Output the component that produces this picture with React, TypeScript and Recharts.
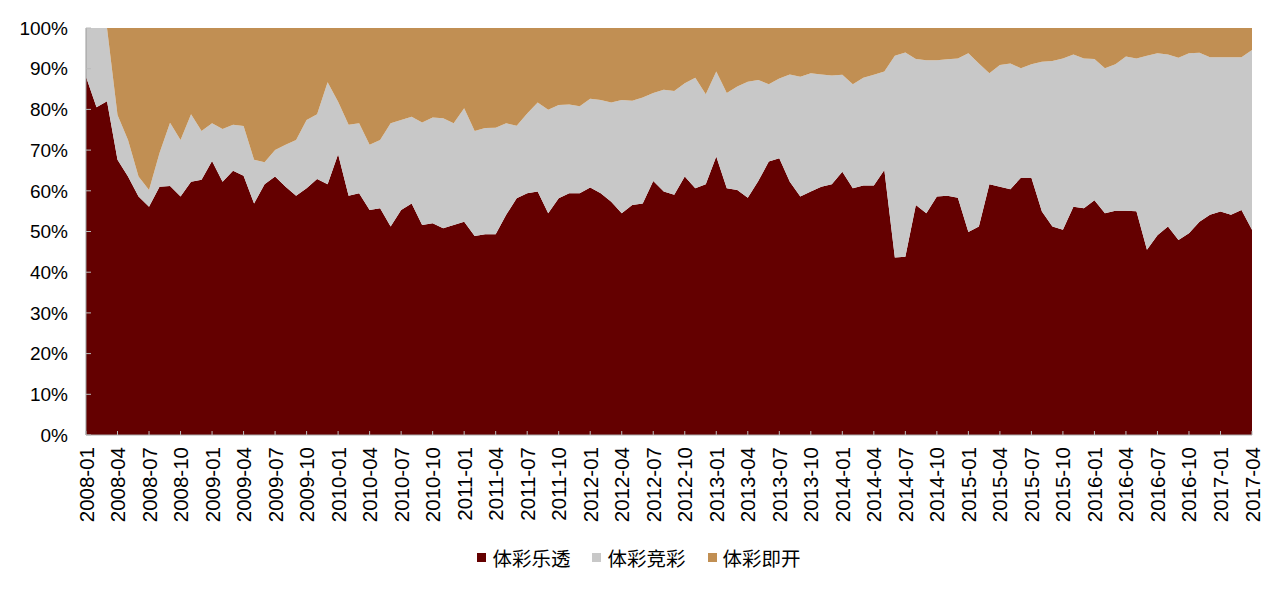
import React from 'react';
import { AreaChart, Area, XAxis, YAxis, Legend } from 'recharts';

const months: string[] = (() => {
  const out: string[] = [];
  for (let y = 2008; y <= 2017; y++) {
    for (let m = 1; m <= 12; m++) {
      if (y === 2017 && m > 4) break;
      out.push(`${y}-${m < 10 ? '0' + m : m}`);
    }
  }
  return out;
})();

const lotto: number[] = [
  88, 80.5, 82, 67.6, 63.5, 58.6, 56.1, 61.0, 61.2, 58.6, 62.2, 62.7,
  67.3, 62.2, 64.9, 63.7, 56.9, 61.6, 63.5, 61.0, 58.8, 60.6, 62.9, 61.6,
  69.0, 58.8, 59.4, 55.3, 55.7, 51.2, 55.3, 56.9, 51.6, 52.0, 50.8, 51.6,
  52.4, 48.9, 49.3, 49.3, 54.1, 58.2, 59.4, 59.8, 54.5, 58.2, 59.4, 59.4,
  60.8, 59.4, 57.3, 54.5, 56.5, 56.9, 62.4, 59.8, 59.0, 63.5, 60.6, 61.6,
  68.4, 60.6, 60.2, 58.3, 62.4, 67.2, 68.0, 62.2, 58.6, 59.8, 61.0, 61.6,
  64.7, 60.6, 61.3, 61.3, 65.1, 43.6, 43.8, 56.5, 54.5, 58.6, 58.8, 58.3,
  49.9, 51.2, 61.6, 61.0, 60.4, 63.2, 63.2, 54.9, 51.2, 50.4, 56.1, 55.7,
  57.7, 54.5, 55.1, 55.1, 55.0, 45.5, 49.1, 51.2, 47.9, 49.6, 52.4, 54.1,
  54.9, 54.1, 55.3, 50.4,
];

const sports: number[] = [
  12, 19.5, 18, 11.0, 9.0, 4.9, 4.1, 8.3, 15.5, 13.9, 16.6, 12.0,
  9.3, 13.0, 11.3, 12.2, 10.7, 5.4, 6.5, 10.3, 13.7, 16.8, 15.9, 25.1,
  12.9, 17.4, 17.2, 16.0, 16.8, 25.4, 22.1, 21.3, 25.2, 26.0, 27.0, 25.0,
  27.9, 25.8, 26.1, 26.2, 22.5, 17.8, 19.6, 21.9, 25.4, 22.9, 21.8, 21.4,
  21.8, 22.9, 24.4, 27.8, 25.6, 26.0, 21.6, 25.0, 25.5, 22.9, 27.2, 22.1,
  20.9, 23.4, 25.4, 28.5, 24.8, 19.0, 19.6, 26.4, 29.4, 29.1, 27.6, 26.7,
  23.8, 25.6, 26.5, 27.2, 24.2, 49.6, 50.2, 35.9, 37.6, 33.5, 33.5, 34.2,
  43.9, 40.1, 27.3, 29.9, 30.9, 26.9, 27.9, 36.8, 40.7, 42.1, 37.4, 36.8,
  34.7, 35.6, 36.0, 37.9, 37.5, 47.7, 44.7, 42.3, 44.8, 44.2, 41.5, 38.7,
  37.9, 38.7, 37.5, 44.2,
];

const instant: number[] = [
  0, 0, 0, 21.4, 27.5, 36.5, 39.8, 30.7, 23.3, 27.5, 21.2, 25.3,
  23.4, 24.8, 23.8, 24.1, 32.4, 33.0, 30.0, 28.7, 27.5, 22.6, 21.2, 13.3,
  18.1, 23.8, 23.4, 28.7, 27.5, 23.4, 22.6, 21.8, 23.2, 22.0, 22.2, 23.4,
  19.7, 25.3, 24.6, 24.5, 23.4, 24.0, 21.0, 18.3, 20.1, 18.9, 18.8, 19.2,
  17.4, 17.7, 18.3, 17.7, 17.9, 17.1, 16.0, 15.2, 15.5, 13.6, 12.2, 16.3,
  10.7, 16.0, 14.4, 13.2, 12.8, 13.8, 12.4, 11.4, 12.0, 11.1, 11.4, 11.7,
  11.5, 13.8, 12.2, 11.5, 10.7, 6.8, 6.0, 7.6, 7.9, 7.9, 7.7, 7.5,
  6.2, 8.7, 11.1, 9.1, 8.7, 9.9, 8.9, 8.3, 8.1, 7.5, 6.5, 7.5,
  7.6, 9.9, 8.9, 7.0, 7.5, 6.8, 6.2, 6.5, 7.3, 6.2, 6.1, 7.2,
  7.2, 7.2, 7.2, 5.4,
];

const yTicks: number[] = [0, 10, 20, 30, 40, 50, 60, 70, 80, 90, 100];

const seriesNames = ['体彩乐透', '体彩竞彩', '体彩即开'];
const seriesColors = ['#640000', '#C8C8C8', '#C18F53'];

const data = months.map((m, i) => ({
  month: m,
  lotto: lotto[i],
  sports: sports[i],
  instant: instant[i],
}));

const FONT = '"Liberation Sans", Arial, sans-serif';

const XTick = (props: any) => {
  const { x, y, payload } = props;
  return (
    <text
      x={x}
      y={y}
      transform={`rotate(-90 ${x} ${y})`}
      textAnchor="end"
      dominantBaseline="central"
      fontSize={20.5}
      fontFamily={FONT}
      fill="#000"
    >
      {payload.value}
    </text>
  );
};

const LegendContent = () => (
  <div
    style={{
      display: 'flex',
      justifyContent: 'center',
      alignItems: 'center',
      fontFamily: '"Noto Sans CJK SC", sans-serif',
      fontSize: 19.5,
      color: '#000',
      paddingLeft: 48,
      marginTop: 8,
    }}
  >
    {seriesNames.map((n, i) => (
      <div key={n} style={{ display: 'flex', alignItems: 'center', marginRight: 22 }}>
        <span
          style={{
            display: 'inline-block',
            width: 9,
            height: 9,
            background: seriesColors[i],
            marginRight: 6,
          }}
        />
        <span>{n}</span>
      </div>
    ))}
  </div>
);

export default function App() {
  return (
    <div style={{ position: 'absolute', left: 0, top: 0, width: 1280, height: 591, background: '#fff' }}>
      <AreaChart
        width={1280}
        height={591}
        data={data}
        margin={{ top: 28, right: 28, bottom: 16, left: 0 }}
      >
        <XAxis
          dataKey="month"
          interval={2}
          tick={<XTick />}
          tickSize={-4}
          tickMargin={16}
          height={100}
          axisLine={{ stroke: '#aaa' }}
          tickLine={{ stroke: '#bbb' }}
        />
        <YAxis
          type="number"
          domain={[0, 100]}
          ticks={yTicks}
          tickFormatter={(v: number) => `${v}%`}
          width={86}
          tickSize={-5}
          tickMargin={23}
          axisLine={{ stroke: '#999' }}
          tickLine={{ stroke: '#bbb' }}
          tick={{ fontSize: 19, fontFamily: FONT, fill: '#000' }}
          allowDataOverflow
        />
        <Legend verticalAlign="bottom" height={40} content={<LegendContent />} />
        <Area
          type="linear"
          dataKey="lotto"
          name={seriesNames[0]}
          stackId="1"
          stroke="none"
          fill={seriesColors[0]}
          fillOpacity={1}
          isAnimationActive={false}
        />
        <Area
          type="linear"
          dataKey="sports"
          name={seriesNames[1]}
          stackId="1"
          stroke="none"
          fill={seriesColors[1]}
          fillOpacity={1}
          isAnimationActive={false}
        />
        <Area
          type="linear"
          dataKey="instant"
          name={seriesNames[2]}
          stackId="1"
          stroke="none"
          fill={seriesColors[2]}
          fillOpacity={1}
          isAnimationActive={false}
        />
      </AreaChart>
    </div>
  );
}
